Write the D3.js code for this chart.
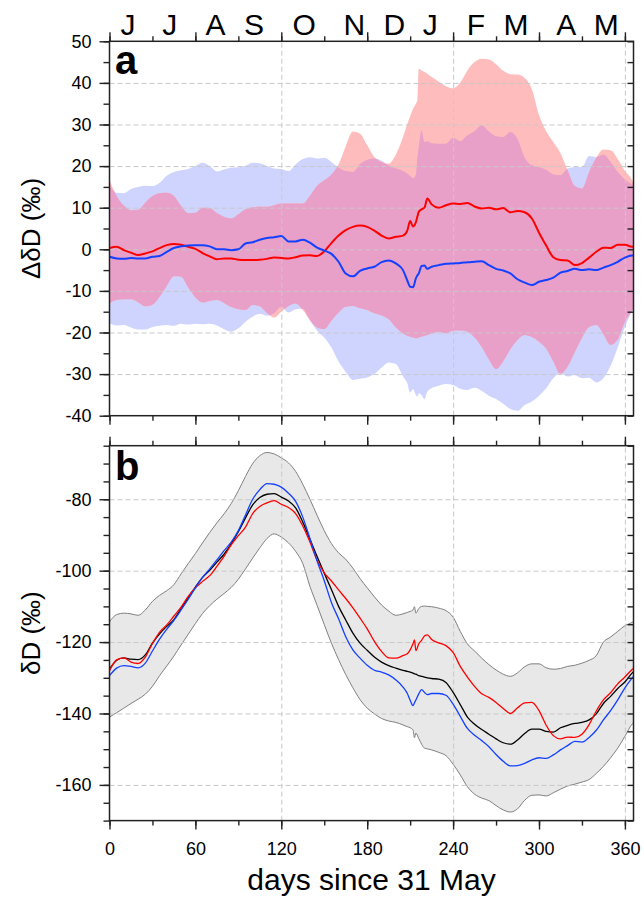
<!DOCTYPE html>
<html>
<head>
<meta charset="utf-8">
<script src="https://cdn.jsdelivr.net/npm/d3@7"></script>
<style>
body { margin: 0; background: #fff; }
svg text { font-family: "Liberation Sans", Arial, Helvetica, sans-serif; fill: #000; }
</style>
</head>
<body>
<svg id="chart" width="644" height="898"></svg>
<script>

// month letters along the top, and where they sit (days since 31 May)
var months = ["J", "J", "A", "S", "O", "N", "D", "J", "F", "M", "A", "M"];
var monthPos = [13, 42, 74, 101, 136, 171, 199, 224, 256, 284, 319, 347];

// panel a: anomalies (permil)
var daysA = [0,5,10,15,20,25,30,35,40,45,50,55,60,65,70,75,80,85,90,95,100,105,110,115,120,125,130,135,140,145,150,155,160,165,170,175,180,185,190,195,200,205,
	208,210,212,214,215,216,218,220,222,
	225,230,235,240,245,250,255,260,265,270,275,280,285,290,295,300,305,310,315,320,325,330,335,340,345,350,355,360,365,366];

var redMeanA = [0.3,0.6,-0.2,-0.8,-1.4,-1.0,-0.5,0.3,1.0,1.3,1.1,0.6,0.1,-0.9,-1.7,-2.4,-2.2,-2.2,-2.5,-2.6,-2.6,-2.5,-2.3,-2.0,-2.1,-2.2,-1.9,-1.5,-1.45,-1.6,-0.5,1.5,3.3,4.6,5.4,5.7,5.4,4.5,3.3,2.6,3.0,3.3,
	4.5,6.8,5.5,6.5,7.8,9.0,9.6,10.0,12.2,
	10.8,10.0,10.6,11.0,10.9,11.1,10.3,9.8,10.0,9.6,9.9,8.9,9.2,8.9,7.4,4.0,0.9,-1.9,-2.6,-2.7,-3.8,-3.3,-2.0,-0.6,0.4,0.3,1.1,1.1,0.6,0.6];

var blueMeanA = [-1.8,-2.2,-2.3,-2.1,-2.2,-2.2,-1.8,-1.6,-0.6,0.3,0.7,0.9,1.0,1.0,0.7,0.0,0.0,-0.2,0.0,1.4,1.7,2.3,2.7,2.9,3.2,1.9,1.9,2.3,1.6,0.4,-0.3,-1.1,-3.0,-5.8,-6.5,-5.2,-4.6,-4.2,-3.1,-2.7,-3.4,-5.0,
	-7.5,-9.0,-9.1,-7.0,-6.3,-5.8,-4.0,-3.9,-4.7,
	-4.2,-3.8,-3.5,-3.4,-3.3,-3.1,-3.0,-2.9,-3.8,-4.7,-5.1,-5.8,-7.2,-8.0,-8.6,-7.8,-7.4,-6.8,-5.6,-5.2,-4.7,-5.0,-4.8,-5.0,-4.4,-3.8,-3.0,-2.0,-1.5,-1.5];

var redHiA = [16.6,12.8,10.5,9.4,9.5,11.2,12.8,13.5,13.6,12.8,10.4,8.7,8.8,10.0,9.9,8.7,7.8,7.4,8.4,9.6,10.1,10.2,10.2,10.6,11.0,11.0,11.0,11.0,12.9,15.3,16.6,18.0,20.4,24.8,28.3,27.8,25.0,22.2,21.0,20.6,22.8,27.0,
	30.2,32.0,33.8,35.0,35.8,43.4,43.0,42.6,42.2,
	41.4,40.3,39.2,38.7,40.1,43.0,45.0,45.8,45.6,44.5,42.9,42.1,42.0,41.2,38.5,32.3,28.4,25.8,23.1,19.0,15.2,14.6,18.6,22.0,24.0,23.8,21.7,18.8,16.6,15.8];

var redLoA = [-13.0,-12.2,-12.0,-12.0,-12.7,-13.7,-13.3,-11.4,-8.8,-6.5,-6.6,-9.2,-11.6,-12.8,-12.4,-12.2,-12.9,-13.9,-14.4,-14.6,-13.4,-13.7,-15.3,-16.4,-15.0,-13.6,-13.0,-14.6,-17.0,-18.8,-19.2,-17.2,-15.2,-13.8,-13.6,-14.2,-14.6,-15.4,-15.9,-16.8,-18.8,-20.2,
	-20.8,-21.0,-21.2,-21.4,-21.4,-21.2,-21.0,-20.8,-20.6,
	-20.3,-19.8,-20.2,-19.6,-19.5,-19.8,-21.2,-23.5,-26.5,-28.8,-26.9,-24.0,-21.8,-20.6,-21.1,-22.2,-23.9,-27.0,-30.0,-28.2,-24.7,-21.3,-18.7,-18.2,-20.4,-23.0,-21.7,-17.5,-14.8,-14.2];

var blueHiA = [15.4,13.6,13.5,14.5,15.0,15.3,15.2,16.0,17.7,18.6,19.0,19.3,20.0,20.8,20.0,18.7,19.2,19.6,19.7,20.1,20.8,20.7,20.0,19.4,19.3,18.8,20.4,21.7,22.1,21.8,22.0,21.0,19.6,18.8,18.6,20.5,21.5,21.8,21.3,20.1,19.5,18.8,
	18.2,17.6,17.1,18.0,22.0,24.5,28.6,25.8,26.0,
	25.5,25.4,25.4,26.8,26.0,27.4,28.4,29.8,28.3,27.2,27.0,28.2,26.5,22.0,20.2,19.8,19.1,18.0,17.8,19.4,19.8,19.8,22.4,22.2,22.8,21.0,18.6,16.8,15.6,15.4];

var blueLoA = [-17.8,-18.3,-18.2,-18.8,-19.3,-19.3,-18.7,-18.4,-18.2,-18.4,-17.9,-18.1,-17.9,-18.0,-17.9,-18.3,-19.2,-19.8,-19.0,-17.4,-16.2,-15.5,-16.0,-15.4,-13.8,-15.2,-14.4,-14.3,-17.1,-19.5,-21.2,-23.6,-27.0,-29.5,-31.4,-31.1,-30.8,-30.0,-28.4,-27.2,-27.6,-30.6,
	-32.2,-34.4,-33.6,-35.0,-35.4,-34.6,-35.0,-36.0,-34.2,
	-33.4,-32.8,-32.4,-32.6,-33.5,-33.8,-33.3,-34.0,-35.2,-36.0,-37.1,-38.4,-38.8,-37.4,-36.6,-35.2,-33.4,-31.0,-29.8,-30.6,-30.2,-31.0,-30.9,-32.0,-31.0,-28.0,-23.6,-18.7,-15.0,-14.6];

// panel b: dD (permil)
var daysB = [0,5,10,15,20,25,30,35,40,45,50,55,60,65,70,75,80,85,90,95,100,105,110,115,120,125,130,135,140,145,150,155,160,165,170,175,180,185,190,195,200,205,
	208,210,212,213,214,216,218,220,222,
	225,230,235,240,245,250,255,260,265,270,275,280,285,290,295,300,305,310,315,320,325,330,335,340,345,350,355,360,365,366];

var grayHiB = [-114.3,-112.3,-111.9,-112.1,-112.5,-111.0,-108.6,-106.9,-105.6,-103.9,-100.9,-98.0,-95.2,-92.2,-89.3,-86.6,-84.1,-81.2,-77.6,-73.6,-70.0,-67.8,-66.9,-67.3,-68.4,-69.8,-72.2,-75.8,-80.0,-84.5,-88.8,-92.4,-95.0,-96.8,-99.3,-102.2,-104.8,-107.3,-109.6,-111.3,-112.5,-112.1,
	-111.7,-111.4,-111.0,-110.1,-111.9,-110.6,-110.0,-109.9,-110.0,
	-110.1,-110.5,-111.2,-113.0,-117.0,-120.5,-122.5,-124.5,-126.3,-127.8,-129.0,-129.6,-128.6,-126.9,-126.1,-126.1,-127.2,-127.6,-127.4,-126.8,-126.5,-125.9,-125.1,-123.8,-120.0,-118.6,-117.0,-115.4,-114.5,-114.3];

var grayLoB = [-141.0,-139.8,-138.5,-137.2,-136.0,-134.6,-132.4,-129.4,-126.7,-123.9,-120.8,-117.8,-114.8,-112.0,-109.8,-108.0,-106.4,-104.7,-102.4,-99.5,-96.5,-93.6,-91.0,-89.7,-90.6,-92.2,-94.6,-98.0,-104.4,-109.7,-115.1,-120.3,-124.9,-129.1,-132.8,-136.1,-138.5,-140.1,-141.4,-142.1,-142.5,-143.2,
	-143.7,-144.0,-144.6,-146.8,-145.5,-147.0,-148.6,-149.7,-149.9,
	-150.2,-150.9,-151.8,-154.2,-157.2,-160.5,-162.6,-163.7,-164.4,-165.8,-167.0,-167.6,-166.7,-164.3,-162.9,-162.8,-163.1,-162.2,-161.2,-160.3,-159.8,-159.2,-158.5,-156.8,-154.8,-152.4,-149.7,-146.4,-143.0,-142.6];

var blackB = [-127.6,-125.1,-124.4,-124.8,-124.9,-123.6,-120.3,-117.7,-115.6,-113.7,-110.6,-107.6,-104.6,-101.9,-99.9,-97.6,-95.4,-92.5,-89.1,-85.2,-81.6,-79.5,-78.6,-78.4,-79.4,-80.5,-82.4,-86.4,-91.2,-96.0,-100.7,-105.3,-110.0,-113.8,-117.5,-120.3,-122.3,-124.2,-125.6,-126.6,-127.3,-127.9,
	-128.2,-128.4,-128.7,-128.9,-129.0,-129.4,-129.6,-129.8,-130.0,
	-130.2,-130.4,-131.3,-134.1,-137.5,-141.0,-143.0,-144.5,-145.8,-147.1,-148.2,-148.6,-147.4,-145.6,-144.4,-144.4,-145.0,-145.2,-144.0,-143.3,-142.8,-142.5,-141.8,-140.1,-137.2,-135.2,-133.0,-131.2,-128.7,-128.3];

var redB = [-128.0,-125.0,-124.4,-125.6,-126.0,-124.2,-120.4,-117.2,-115.2,-112.7,-110.2,-107.2,-104.8,-103.0,-101.4,-98.8,-96.0,-92.8,-90.2,-87.8,-84.0,-82.0,-81.0,-80.4,-81.4,-82.3,-84.0,-87.5,-92.0,-97.1,-100.6,-102.9,-105.4,-107.8,-110.4,-113.3,-116.3,-119.8,-122.6,-124.4,-124.5,-123.8,
	-123.3,-122.2,-120.5,-119.4,-122.4,-120.5,-119.5,-118.3,-118.0,
	-119.3,-120.2,-121.0,-122.9,-126.8,-129.8,-132.4,-134.5,-135.5,-136.9,-138.6,-140.0,-138.4,-137.0,-136.9,-139.2,-143.3,-146.2,-147.1,-146.6,-146.7,-145.8,-143.1,-139.3,-136.2,-134.2,-131.7,-129.8,-127.7,-127.4];

var blueB = [-129.4,-127.3,-126.6,-126.8,-127.2,-125.9,-122.5,-119.2,-116.4,-113.9,-111.0,-108.0,-104.8,-101.9,-99.5,-97.0,-94.4,-92.0,-88.8,-84.4,-80.0,-77.3,-75.6,-75.8,-76.6,-78.3,-80.6,-85.0,-91.0,-97.3,-102.8,-108.9,-113.5,-118.5,-122.2,-124.5,-126.5,-127.9,-128.4,-129.2,-130.6,-132.6,
	-134.4,-136.3,-137.8,-137.0,-136.2,-134.5,-133.3,-134.1,-134.7,
	-134.4,-134.4,-134.9,-137.4,-140.8,-144.2,-146.1,-147.6,-149.3,-151.5,-153.4,-154.7,-154.6,-154.0,-153.0,-152.4,-152.6,-151.6,-150.2,-149.0,-147.8,-148.0,-146.7,-144.7,-141.8,-139.2,-136.2,-132.8,-130.1,-129.6];


var svg = d3.select("#chart");

var left = 109.5, right = 633.5;

var x = d3.scaleLinear().domain([0, 366]).range([left, right]);
var ya = d3.scaleLinear().domain([-40, 50]).range([415.7, 41.3]);
var yb = d3.scaleLinear().domain([-170, -65]).range([820.6, 445.7]);

var dayTicks = d3.range(0, 361, 30),
	dayMajor = d3.range(0, 361, 60);

// plain hyphen for negatives, like the original plot
function plain(d) { return String(d); }

function band(days, y, lo, hi) {
	return d3.area()
	.curve(d3.curveMonotoneX)
	.x(function(d, i) { return x(days[i]); })
	.y0(function(d, i) { return y(lo[i]); })
	.y1(function(d, i) { return y(hi[i]); })(days);
}

function line(days, y, vals) {
	return d3.line()
	.curve(d3.curveMonotoneX)
	.x(function(d, i) { return x(days[i]); })
	.y(function(d, i) { return y(vals[i]); })(days);
}

function grid(y, values) {
	var y0 = y.range()[0], y1 = y.range()[1];
	svg.append("g")
	.attr("class", "grid")
	.attr("transform", "translate(" + left + ",0)")
	.call(d3.axisLeft(y).tickValues(values).tickSize(-(right - left)).tickFormat(""))
	.call(function(g) { g.select(".domain").remove(); });
	svg.append("g")
	.attr("class", "grid")
	.attr("transform", "translate(0," + y0 + ")")
	.call(d3.axisBottom(x).tickValues([120, 240, 360]).tickSize(-(y0 - y1)).tickFormat(""))
	.call(function(g) { g.select(".domain").remove(); });
}

function axes(y, major, minor, labelBottom) {
	var y0 = y.range()[0], y1 = y.range()[1];
	var list = [
		[d3.axisLeft(y).tickValues(minor).tickSize(6).tickFormat(""), left, 0],
		[d3.axisLeft(y).tickValues(major).tickSize(10).tickPadding(8).tickFormat(plain), left, 0],
		[d3.axisRight(y).tickValues(minor).tickSize(-6).tickFormat(""), right, 0],
		[d3.axisTop(x).tickValues(dayTicks).tickSize(5).tickFormat(""), 0, y1],
		[d3.axisTop(x).tickValues(dayMajor).tickSize(9).tickFormat(""), 0, y1],
		[d3.axisBottom(x).tickValues(dayTicks).tickSize(5).tickFormat(""), 0, y0],
		[d3.axisBottom(x).tickValues(dayMajor).tickSize(9).tickPadding(12.6)
			.tickFormat(labelBottom ? plain : ""), 0, y0]
	];
	list.forEach(function(a) {
		svg.append("g")
		.attr("class", "axis")
		.attr("transform", "translate(" + a[1] + "," + a[2] + ")")
		.call(a[0])
		.call(function(g) { g.select(".domain").remove(); });
	});
	svg.append("rect")
	.attr("x", left).attr("y", y1)
	.attr("width", right - left).attr("height", y0 - y1)
	.attr("fill", "none")
	.attr("stroke", "#222")
	.attr("stroke-width", 1.5);
}

// ---- panel a
svg.append("clipPath").attr("id", "blueClip")
	.append("path").attr("d", band(daysA, ya, blueLoA, blueHiA));

svg.append("path").attr("d", band(daysA, ya, blueLoA, blueHiA)).attr("fill", "#cfd4ff");
svg.append("path").attr("d", band(daysA, ya, redLoA, redHiA)).attr("fill", "#ffbcbc");
svg.append("path").attr("d", band(daysA, ya, redLoA, redHiA)).attr("fill", "#e8a0c9")
	.attr("clip-path", "url(#blueClip)");

grid(ya, d3.range(-30, 41, 10));

svg.append("path").attr("d", line(daysA, ya, redMeanA))
	.attr("fill", "none").attr("stroke", "#ff0000").attr("stroke-width", 2);
svg.append("path").attr("d", line(daysA, ya, blueMeanA))
	.attr("fill", "none").attr("stroke", "#1440ff").attr("stroke-width", 2);

axes(ya, d3.range(-40, 51, 10), d3.range(-40, 51, 5), false);

// ---- panel b
svg.append("path").attr("d", band(daysB, yb, grayLoB, grayHiB))
	.attr("fill", "#e8e8e8").attr("stroke", "#808080").attr("stroke-width", 1);

grid(yb, d3.range(-160, -79, 20));

[[blackB, "#000"], [redB, "#ff0000"], [blueB, "#1440ff"]].forEach(function(s) {
	svg.append("path").attr("d", line(daysB, yb, s[0]))
	.attr("fill", "none").attr("stroke", s[1]).attr("stroke-width", 1.3);
});

axes(yb, d3.range(-160, -79, 20), d3.range(-170, -64, 5), true);

// ---- styling of ticks and grid
svg.selectAll(".axis line").attr("stroke", "#222").attr("stroke-width", 1.4);
svg.selectAll(".axis text").style("font-size", "18px").attr("fill", "#000");
svg.selectAll(".grid line").attr("stroke", "#c8c8c8").attr("stroke-width", 1).attr("stroke-dasharray", "5,3");

// ---- texts
svg.selectAll(".month").data(months)
	.enter().append("text")
	.attr("class", "month")
	.attr("x", function(d, i) { return x(monthPos[i]); })
	.attr("y", 35)
	.attr("text-anchor", "middle")
	.style("font-size", "30px")
	.text(function(d) { return d; });

svg.append("text").attr("x", 115).attr("y", 74)
	.style("font-size", "40px").style("font-weight", "bold").text("a");
svg.append("text").attr("x", 115).attr("y", 480)
	.style("font-size", "40px").style("font-weight", "bold").text("b");

svg.append("text")
	.attr("transform", "translate(40," + (ya.range()[0] + ya.range()[1]) / 2 + ") rotate(-90)")
	.attr("text-anchor", "middle")
	.style("font-size", "26px")
	.text("ΔδD (‰)");

svg.append("text")
	.attr("transform", "translate(40," + (yb.range()[0] + yb.range()[1]) / 2 + ") rotate(-90)")
	.attr("text-anchor", "middle")
	.style("font-size", "26px")
	.text("δD (‰)");

svg.append("text")
	.attr("x", (left + right) / 2)
	.attr("y", 890)
	.attr("text-anchor", "middle")
	.style("font-size", "30px")
	.text("days since 31 May");

</script>
</body>
</html>
